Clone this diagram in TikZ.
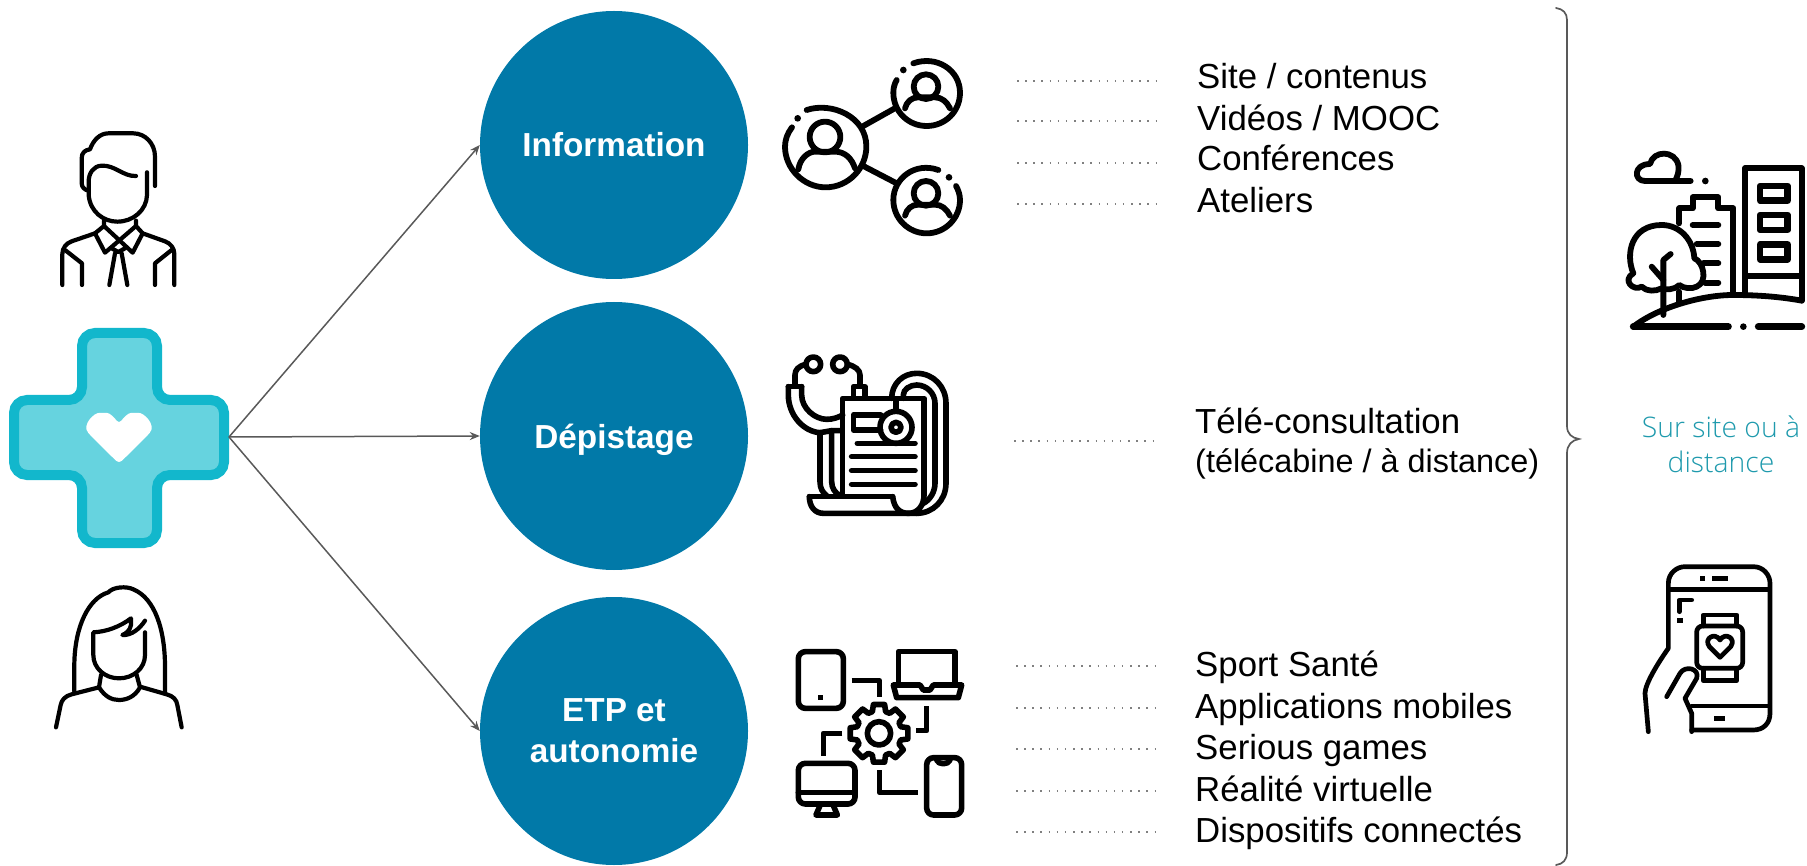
\documentclass[tikz,border=0pt]{standalone}
\usepackage{fontspec}
\setmainfont{Liberation Sans}
\newfontfamily\lightf{Open Sans Light}
\usetikzlibrary{arrows.meta}
\definecolor{blue1}{HTML}{0179A8}
\definecolor{crossfill}{HTML}{66D3DF}
\definecolor{crossline}{HTML}{12B7CC}
\definecolor{gline}{HTML}{595959}
\definecolor{teal1}{HTML}{1F9AAD}
\tikzset{
 big/.style={circle,fill=blue1,minimum size=268pt,inner sep=0pt,text=white,align=center,font=\fontsize{33.3}{41}\selectfont\bfseries},
 oneline/.style={text height=24pt,text depth=0pt},
 arr/.style={draw=gline,line width=1.5pt,-{Stealth[length=10pt,width=8pt]}},
 item/.style={anchor=base west,inner sep=0pt,font=\fontsize{34.8}{40}\selectfont,text=black},
 dots/.style={draw=gray,line width=1.6pt,dash pattern=on 1.5pt off 6.65pt},
 ico/.style={draw=black,line cap=round,line join=round,line width=#1},
 zoomed/.style={x=.33333pt,y=-.33333pt}
}
\begin{document}
\begin{tikzpicture}[x=1pt,y=-1pt]
\useasboundingbox (0,0) rectangle (1807,866);
% cross
\draw[fill=crossfill,draw=crossline,line width=10pt,rounded corners=13pt]
 (82,333)--(157,333)--(157,400)--(224,400)--(224,475)--(157,475)--(157,543)--(82,543)--(82,475)--(14,475)--(14,400)--(82,400)--cycle;
\begin{scope}[shift={(0,320)},zoomed]
\fill[white,rounded corners=4pt] (357,431)--(272,347) .. controls (245,315) and (282,278) .. (310,279) .. controls (330,279) and (345,295) .. (357,312) .. controls (369,295) and (384,279) .. (404,279) .. controls (432,278) and (469,315) .. (442,347) --cycle;
\end{scope}
\coordinate (crossE) at (229,437);
% circles
\node[big,oneline] (info) at (614,145) {Information};
\node[big,oneline] (dep) at (614,436) {Dépistage};
\node[big] (etp) at (614,731) {ETP et\\autonomie};
\draw[arr] (crossE) -- (info.west);
\draw[arr] (crossE) -- (dep.west);
\draw[arr] (crossE) -- (etp.west);
% man
\begin{scope}[shift={(0,100)},zoomed]
\begin{scope}[ico=4.2pt]
\draw (465,258)--(465,170) .. controls (465,130) and (435,100) .. (400,100)--(325,100) .. controls (300,100) and (280,120) .. (270,148) .. controls (255,150) and (245,158) .. (245,175)--(245,250) .. controls (245,262) and (255,270) .. (265,272);
\draw (408,228) .. controls (370,230) and (345,195) .. (305,197) .. controls (280,198) and (266,220) .. (266,245)--(266,285) .. controls (270,335) and (310,365) .. (352,365) .. controls (400,365) and (440,330) .. (441,285)--(441,217);
\draw (312,362)--(312,378)--(398,458)--(428,400)--(408,378)--(408,362);
\draw (408,378)--(315,458)--(285,400)--(312,378);
\draw (335,445)--(355,456)--(375,445);
\draw (345,460)--(328,555);
\draw (365,460)--(382,555);
\draw (285,400)--(215,424) .. controls (198,430) and (187,445) .. (187,462)--(187,555);
\draw (195,450)--(246,490)--(246,555);
\draw (428,400)--(495,424) .. controls (512,430) and (523,445) .. (523,462)--(523,555);
\draw (515,450)--(465,490)--(465,555);
\end{scope}
\end{scope}
% woman
\begin{scope}[shift={(30,570)},zoomed]
\begin{scope}[ico=4.2pt]
\draw (133,365)--(133,280) .. controls (135,170) and (175,85) .. (235,67) .. controls (250,50) and (290,48) .. (310,58) .. controls (375,85) and (405,180) .. (405,290)--(405,368);
\draw (345,187)--(345,255) .. controls (345,295) and (310,325) .. (267,325) .. controls (225,325) and (190,295) .. (190,255)--(190,187) .. controls (230,185) and (270,170) .. (303,145)--(303,165) .. controls (300,180) and (290,190) .. (277,195) .. controls (305,197) and (330,175) .. (345,152);
\draw (213,315)--(207,352) .. controls (225,380) and (245,390) .. (267,390) .. controls (290,390) and (315,380) .. (330,352)--(320,315);
\draw (207,352)--(125,373) .. controls (105,378) and (95,390) .. (92,405)--(78,472);
\draw (330,350)--(410,373) .. controls (430,378) and (440,390) .. (442,405)--(455,472);
\end{scope}
\end{scope}
% network
\begin{scope}[shift={(770,40)},zoomed]
\begin{scope}[ico=5.8pt]
\draw (110,210) .. controls (185,185) and (290,230) .. (289,320) .. controls (289,385) and (235,442) .. (167,442) .. controls (100,442) and (45,385) .. (45,320) .. controls (45,300) and (52,280) .. (66,262);
\draw (165,291) circle[radius=46];
\draw (85,388) .. controls (90,355) and (115,335) .. (135,335) -- (195,335) .. controls (225,335) and (245,355) .. (255,385);
\draw (430,70) .. controls (500,45) and (570,90) .. (570,158) .. controls (570,215) and (525,258) .. (470,258) .. controls (415,258) and (370,215) .. (370,158) .. controls (370,145) and (373,132) .. (380,120);
\draw (468,140) circle[radius=37];
\draw (405,205) .. controls (410,185) and (425,172) .. (445,172) -- (495,172) .. controls (515,172) and (530,185) .. (540,205);
\draw (505,390) .. controls (435,365) and (370,415) .. (370,480) .. controls (370,535) and (415,580) .. (470,580) .. controls (525,580) and (570,535) .. (570,480) .. controls (570,465) and (565,450) .. (558,438);
\draw (468,460) circle[radius=37];
\draw (405,527) .. controls (410,507) and (425,494) .. (445,494) -- (495,494) .. controls (515,494) and (530,507) .. (540,527);
\draw (280,258)--(378,203);
\draw (280,378)--(380,430);
\end{scope}
\fill (400,90) circle[radius=10];
\fill (83,235) circle[radius=10];
\fill (537,412) circle[radius=10];
\end{scope}
% stethoscope
\begin{scope}[shift={(770,340)},zoomed]
\begin{scope}[ico=5.6pt]
\draw (130,73) circle[radius=22];
\draw (210,73) circle[radius=22];
\draw (108,73) .. controls (85,78) and (75,90) .. (75,105)--(75,138);
\draw (232,73) .. controls (255,78) and (270,90) .. (270,105)--(270,138);
\draw (55,140)--(95,140);
\draw (55,140)--(55,165) .. controls (55,225) and (100,275) .. (150,278)--(150,425) .. controls (150,445) and (158,458) .. (170,467);
\draw (95,140)--(95,165) .. controls (95,205) and (135,238) .. (170,238) .. controls (190,238) and (205,232) .. (218,225);
\draw (150,278)--(185,272)--(215,272);
\draw (185,272)--(185,425) .. controls (185,445) and (195,458) .. (210,467);
\draw (218,467)--(218,175)--(462,175)--(462,465);
\draw (250,172)--(250,140)--(285,140)--(285,172);
\draw (365,175) .. controls (365,130) and (400,100) .. (440,100) .. controls (490,100) and (528,140) .. (528,190)--(528,430) .. controls (528,480) and (490,520) .. (440,520);
\draw (400,175)--(400,165) .. controls (400,148) and (420,135) .. (440,135) .. controls (470,135) and (495,160) .. (495,190)--(495,430) .. controls (495,455) and (480,480) .. (460,490);
\draw (118,470)--(368,470);
\draw (118,470) .. controls (118,500) and (135,520) .. (160,520)--(440,520);
\draw (368,470) .. controls (372,505) and (390,520) .. (415,520) .. controls (445,520) and (462,495) .. (462,465);
\draw[fill=white] (378,262) circle[radius=48];
\draw (378,262) circle[radius=15];
\draw (378,180)--(378,214);
\draw (332,225)--(250,225)--(250,270)--(332,270);
\draw (262,310)--(435,310);
\draw (245,350)--(435,350);
\draw (245,392)--(435,392);
\draw (245,433)--(435,433);
\end{scope}
\end{scope}
% devices
\begin{scope}[shift={(780,630)},zoomed]
\begin{scope}[ico=5.6pt]
\draw[rounded corners=7pt] (55,65) rectangle (190,235);
\draw[line cap=butt] (215,152)--(298,152)--(298,200);
\draw (355,160)--(355,65)--(525,65)--(525,160);
\draw (340,165)--(420,165)--(430,180)--(450,180)--(460,165)--(545,165)--(535,203)--(350,203)--cycle;
\draw[line cap=butt] (440,228)--(440,302)--(408,302);
\begin{scope}[shift={(297,310)}]
\draw (-17:68) foreach \a in {0,45,...,315} { -- (\a-17:68) -- (\a-11:88) -- (\a+11:88) -- (\a+17:68) } -- cycle;
\draw (0,0) circle[radius=35];
\end{scope}
\draw[line cap=butt] (187,310)--(130,310)--(130,378);
\draw[rounded corners=7pt] (55,400) rectangle (225,522);
\draw (55,488)--(225,488);
\draw (122,522)--(108,555)--(172,555)--(158,522);
\draw[line cap=butt] (298,420)--(298,487)--(415,487);
\draw[rounded corners=7pt] (440,383) rectangle (545,555);
\draw (470,390) .. controls (475,405) and (505,405) .. (510,390);
\end{scope}
\fill (114,194) rectangle (130,210);
\end{scope}
% city
\begin{scope}[shift={(1600,140)},zoomed]
\begin{scope}[ico=5.8pt]
\draw (272,123)--(135,123) .. controls (100,123) and (100,72) .. (150,72) .. controls (160,30) and (225,30) .. (235,75) .. controls (238,95) and (232,110) .. (225,123);
\draw (435,465)--(435,85)--(605,85)--(605,482);
\draw (440,408)--(605,408);
\draw[line width=6.5pt] (480,138) rectangle (563,182);
\draw[line width=6.5pt] (480,225) rectangle (563,270);
\draw[line width=6.5pt] (480,313) rectangle (563,358);
\draw (400,465)--(400,205)--(355,205)--(355,172)--(278,172)--(278,205)--(238,205)--(238,250);
\draw (278,255)--(355,255);
\draw (290,312)--(355,312);
\draw (310,370)--(355,370);
\draw (315,428)--(355,428);
\draw (238,455)--(238,490);
\draw (100,400) .. controls (75,340) and (95,255) .. (185,255) .. controls (240,255) and (280,300) .. (283,355) .. controls (310,365) and (325,425) .. (290,440) .. controls (275,448) and (250,445) .. (238,435) .. controls (225,450) and (195,450) .. (185,445) .. controls (165,455) and (140,455) .. (125,440) .. controls (100,455) and (65,420) .. (100,400);
\draw (190,525)--(190,360)--(212,342);
\draw (155,380)--(190,420);
\draw (100,560) .. controls (170,505) and (300,465) .. (400,465) .. controls (470,465) and (540,470) .. (605,482);
\draw[line width=7pt] (100,560)--(385,560);
\draw[line width=7pt] (475,560)--(605,560);
\end{scope}
\fill (316,123) circle[radius=10];
\fill (430,560) circle[radius=10];
\end{scope}
% phone
\begin{scope}[shift={(1620,550)},zoomed]
\begin{scope}[ico=4.7pt]
\draw (145,290)--(145,100) .. controls (145,70) and (170,50) .. (195,50)--(400,50) .. controls (430,50) and (450,75) .. (450,100)--(450,490) .. controls (450,520) and (430,540) .. (400,540)--(215,540);
\draw (150,118)--(445,118);
\draw (215,468)--(445,468);
\draw (215,150)--(178,150)--(178,185);
\draw[rounded corners=6pt] (230,228) rectangle (368,355);
\draw (250,228)--(250,195)--(350,195)--(350,228);
\draw (250,355)--(250,392)--(350,392)--(350,355);
\draw (300,322)--(268,290) .. controls (250,265) and (285,245) .. (300,270) .. controls (315,245) and (350,265) .. (332,290)--cycle;
\draw (85,545)--(75,430) .. controls (75,400) and (120,330) .. (145,295);
\draw (140,440)--(180,370) .. controls (195,345) and (240,355) .. (230,385)--(195,445)--(215,490)--(215,545);
\end{scope}
\fill (240,77) rectangle (255,93);
\fill (275,77) rectangle (323,93);
\fill (283,497) rectangle (315,513);
\fill (172,203) rectangle (190,220);
\end{scope}
% lists
\node[item] (t1) at (1197,89) {Site / contenus};
\node[item] (t2) at (1197,131) {Vidéos / MOOC};
\node[item] (t3) at (1197,171) {Conférences};
\node[item] (t4) at (1197,213) {Ateliers};
\node[item] (t5) at (1195,433) {Télé-consultation};
\node[item,font=\fontsize{32.4}{36}\selectfont] (t6) at (1195,472) {(télécabine / à distance)};
\node[item] (t7) at (1195,676) {Sport Santé};
\node[item] (t8) at (1195,718) {Applications mobiles};
\node[item] (t9) at (1195,759) {Serious games};
\node[item] (t10) at (1195,801) {Réalité virtuelle};
\node[item] (t11) at (1195,842) {Dispositifs connectés};
% dotted leaders
\foreach \n/\xa/\xb/\yy in {a/1017/1158/81,b/1017/1158/121,c/1017/1158/163,d/1017/1158/204,e/1014/1155/441,f/1016/1157/666,g/1016/1157/708,h/1016/1157/749,i/1016/1157/791,j/1016/1157/832}{
 \coordinate (l\n) at (\xa,\yy);
 \coordinate (r\n) at (\xb,\yy);
 \draw[dots] (l\n) -- (r\n);
}
% brace
\draw[gline,line width=1.7pt,line cap=round] (1556,8) .. controls (1563,9) and (1567,13) .. (1567,20) -- (1567,426) .. controls (1567,434) and (1572,438) .. (1579,439) .. controls (1572,440) and (1567,445) .. (1567,453) -- (1567,852) .. controls (1567,860) and (1563,864) .. (1556,865);
% side label
\node[inner sep=0pt,anchor=base,font=\lightf\fontsize{28.3}{35}\selectfont,text=teal1] (s1) at (1721,437) {Sur site ou à};
\node[inner sep=0pt,anchor=base,font=\lightf\fontsize{28.3}{35}\selectfont,text=teal1] (s2) at (1721,472) {distance};
\end{tikzpicture}
\end{document}
